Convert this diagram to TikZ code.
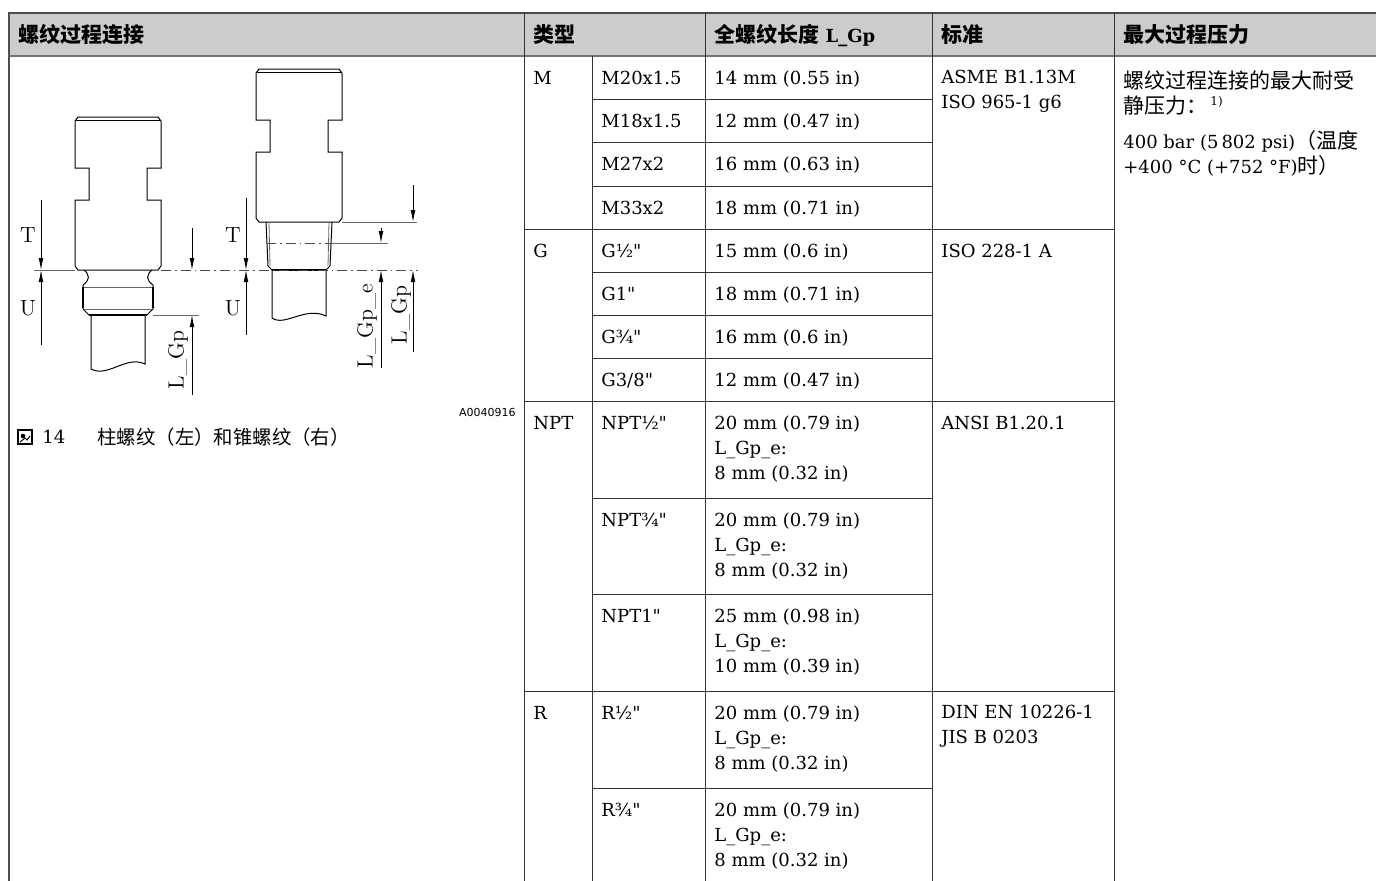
\documentclass[tikz,border=0pt]{standalone}
\usepackage{fontspec}
\usetikzlibrary{arrows.meta}
\newfontfamily\dv{DejaVu Serif}
\newfontfamily\dvs{DejaVu Sans}
\newfontfamily\cjk{Noto Sans CJK SC}
\newcommand\tabfont{\dv\fontsize{9}{12.5}\selectfont}
\newcommand\zh[1]{{\cjk\fontsize{10.5}{12.5}\selectfont #1}}
\begin{document}
\begin{tikzpicture}[x=0.5pt,y=-0.5pt,
    rule/.style={black!80,line width=0.5pt},
    frame/.style={black!70,line width=0.8pt},
    cell/.style={anchor=north west,inner sep=0pt,align=left,font=\tabfont,execute at begin node=\strut},
    head/.style={anchor=west,inner sep=0pt,font=\tabfont\bfseries},
    part/.style={line width=0.5pt},
    thread/.style={line width=1.3pt},
    axis/.style={black!70,line width=0.4pt,dash pattern=on 5pt off 2pt on 0.8pt off 2pt},
    ext/.style={black!60,line width=0.4pt},
    dim/.style={line width=0.4pt,-{Latex[length=6pt,width=2.4pt]}},
    lbl/.style={inner sep=0pt,font=\fontsize{11}{11}\selectfont}]
    \useasboundingbox (0,0) rectangle (1376,880);
    \clip (0,0) rectangle (1376,880);
    \fill[black!20] (9,13) rectangle (1380,56);
    \draw[frame] (1380,13) -- (9,13) -- (9,885);
    \draw[frame,black!55,line width=1pt] (9,56) -- (1380,56);
    \foreach \x in {524,705,932,1114} \draw[rule] (\x,13) -- (\x,885);
    \draw[rule] (592,56) -- (592,885);
    \foreach \y in {99,142,186,272,315,358,498,594,788} \draw[rule] (592,\y) -- (932,\y);
    \foreach \y in {229,401,691} \draw[rule] (524,\y) -- (1114,\y);

    \node[head] (hconn) at (18,35) {\zh{螺纹过程连接}};
    \node[head] (htype) at (533,35) {\zh{类型}};
    \node[head] (hlen) at (714,35) {\zh{全螺纹长度} L\_Gp};
    \node[head] (hstd) at (941,35) {\zh{标准}};
    \node[head] (hpres) at (1123,35) {\zh{最大过程压力}};

    \node[cell] (typem) at (533,67) {M};
    \node[cell] (typeg) at (533,240) {G};
    \node[cell] (typenpt) at (533,412) {NPT};
    \node[cell] (typer) at (533,702) {R};

    \node[cell] (subma) at (601,67) {M20x1.5};
    \node[cell] (submb) at (601,110) {M18x1.5};
    \node[cell] (submc) at (601,153) {M27x2};
    \node[cell] (submd) at (601,197) {M33x2};
    \node[cell] (subga) at (601,240) {G½"};
    \node[cell] (subgb) at (601,283) {G1"};
    \node[cell] (subgc) at (601,326) {G¾"};
    \node[cell] (subgd) at (601,369) {G3/8"};
    \node[cell] (subna) at (601,412) {NPT½"};
    \node[cell] (subnb) at (601,509) {NPT¾"};
    \node[cell] (subnc) at (601,605) {NPT1"};
    \node[cell] (subra) at (601,702) {R½"};
    \node[cell] (subrb) at (601,799) {R¾"};

    \node[cell] (lenma) at (714,67) {14 mm (0.55 in)};
    \node[cell] (lenmb) at (714,110) {12 mm (0.47 in)};
    \node[cell] (lenmc) at (714,153) {16 mm (0.63 in)};
    \node[cell] (lenmd) at (714,197) {18 mm (0.71 in)};
    \node[cell] (lenga) at (714,240) {15 mm (0.6 in)};
    \node[cell] (lengb) at (714,283) {18 mm (0.71 in)};
    \node[cell] (lengc) at (714,326) {16 mm (0.6 in)};
    \node[cell] (lengd) at (714,369) {12 mm (0.47 in)};
    \node[cell] (lenna) at (714,415) {20 mm (0.79 in)\\L\_Gp\_e:\\8 mm (0.32 in)};
    \node[cell] (lennb) at (714,512) {20 mm (0.79 in)\\L\_Gp\_e:\\8 mm (0.32 in)};
    \node[cell] (lennc) at (714,608) {25 mm (0.98 in)\\L\_Gp\_e:\\10 mm (0.39 in)};
    \node[cell] (lenra) at (714,705) {20 mm (0.79 in)\\L\_Gp\_e:\\8 mm (0.32 in)};
    \node[cell] (lenrb) at (714,802) {20 mm (0.79 in)\\L\_Gp\_e:\\8 mm (0.32 in)};

    \node[cell] (stdm) at (941,70) {ASME B1.13M\\ISO 965-1 g6};
    \node[cell] (stdg) at (941,240) {ISO 228-1 A};
    \node[cell] (stdnpt) at (941,412) {ANSI B1.20.1};
    \node[cell] (stdr) at (941,705) {DIN EN 10226-1\\JIS B 0203};

    \node[cell] (presa) at (1123,70) {\zh{螺纹过程连接的最大耐受}\\\zh{静压力：}\,\textsuperscript{1)}};
    \node[cell] (presb) at (1123,130) {400 bar (5\,802 psi)\zh{（温度}\\+400~°C (+752~°F)\zh{时）}};

    \foreach \hx/\hy in {75/117,256/69} {
        \draw[part,shift={(\hx,\hy)}] (0,4) -- (3,0) -- (83,0) -- (86,4) -- (86,51) -- (72,51) -- (72,83) -- (86,83) -- (86,149) -- (83,153) -- (3,153) -- (0,149) -- (0,83) -- (14,83) -- (14,51) -- (0,51) -- cycle;
        \draw[part,shift={(\hx,\hy)}] (1,3) -- (85,3);
    }
    \draw[part] (84,270) .. controls (90,275) and (90,280) .. (83,285);
    \draw[part] (152,270) .. controls (146,275) and (146,280) .. (153,285);
    \draw[part] (83,285) -- (83,309) -- (89,315) -- (147,315) -- (153,309) -- (153,285);
    \draw[thread] (83,287) -- (83,308);
    \draw[thread] (153,287) -- (153,308);
    \draw[thread] (89,315) -- (147,315);
    \draw[ext] (84,287) -- (152,287);
    \draw[ext] (84,309) -- (152,309);
    \draw[part] (91,315) -- (91,369) .. controls (108,378) and (126,355) .. (145,364) -- (145,315);

    \draw[part] (266,222) -- (268,266) -- (272,270);
    \draw[part] (332,222) -- (330,266) -- (326,270);
    \draw[ext] (269,222) -- (270,266);
    \draw[ext] (329,222) -- (328,266);
    \draw[thread] (272,270) -- (326,270);
    \draw[part] (272,270) -- (272,318) .. controls (285,327) and (305,306) .. (326,316) -- (326,270);

    \draw[ext] (34,270) -- (75,270);
    \draw[axis] (161,270) -- (418,270);
    \draw[axis] (266,243) -- (332,243);
    \draw[ext] (332,243) -- (388,243);
    \draw[ext] (342,222) -- (417,222);
    \draw[ext] (153,315) -- (199,315);

    \draw[dim] (41,200) -- (41,270);
    \draw[dim] (41,345) -- (41,270);
    \draw[dim] (192,228) -- (192,270);
    \draw[dim] (192,395) -- (192,315);
    \draw[dim] (246,198) -- (246,270);
    \draw[dim] (246,335) -- (246,270);
    \draw[dim] (381,228) -- (381,243);
    \draw[dim] (381,368) -- (381,270);
    \draw[dim] (413,185) -- (413,222);
    \draw[dim] (413,352) -- (413,270);

    \node[lbl] (tleft) at (28,235) {T};
    \node[lbl] (uleft) at (28,308) {U};
    \node[lbl] (tright) at (233,235) {T};
    \node[lbl] (uright) at (233,308) {U};
    \node[lbl,rotate=90] (lgpleft) at (178,360) {L\_Gp};
    \node[lbl,rotate=90] (lgpe) at (367,326) {L\_Gp\_e};
    \node[lbl,rotate=90] (lgpright) at (401,315) {L\_Gp};

    \node[anchor=east,inner sep=0pt,font=\dvs\fontsize{5.5}{6}\selectfont] (figcode) at (516,412) {A0040916};
    \draw[line width=0.6pt] (18,430) rectangle (32,444);
    \fill (23,436) circle (2.3);
    \draw[line width=0.5pt] (20,442) -- (25,438) -- (27,440) -- (30,436);
    \node[anchor=base west,inner sep=0pt,font=\tabfont] (fignum) at (42,443) {14};
    \node[anchor=base west,inner sep=0pt,font=\tabfont] (figtxt) at (97,444) {{\cjk\fontsize{9.7}{11}\selectfont 柱螺纹（左）和锥螺纹（右）}};
\end{tikzpicture}
\end{document}
